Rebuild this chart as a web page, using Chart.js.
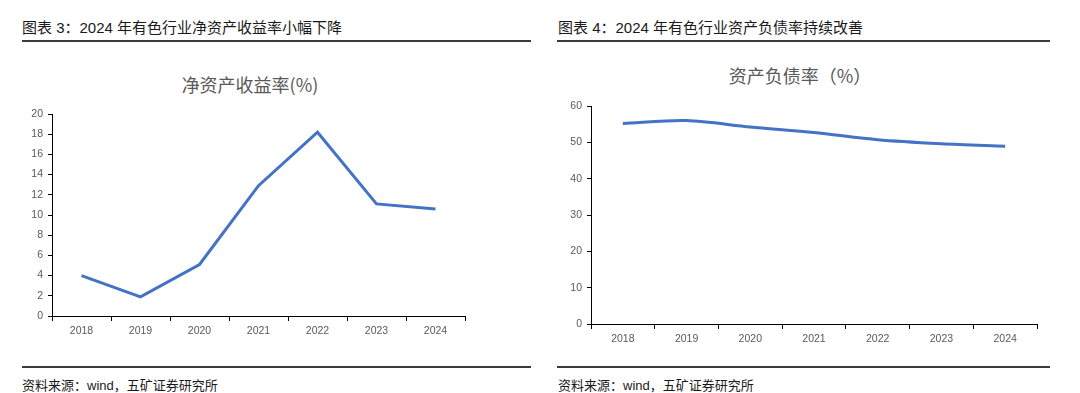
<!DOCTYPE html>
<html lang="zh">
<head>
    <meta charset="UTF-8">
    <title>有色行业 ROE 与资产负债率</title>
    <script src="https://cdn.jsdelivr.net/npm/chart.js"></script>
    <style>
        body {
            margin: 0;
            width: 1080px;
            height: 393px;
            background: #fff;
            position: relative;
            font-family: "Liberation Sans", "Noto Sans CJK SC", sans-serif;
            overflow: hidden;
        }
        .head {
            position: absolute;
            font-size: 15px;
            color: #1a1a1a;
            top: 16px;
        }
        .rule {
            position: absolute;
            height: 2px;
            background: #3a3a3a;
        }
        .ctitle {
            position: absolute;
            font-family: "Noto Sans CJK SC", sans-serif;
            font-size: 18px;
            color: #595959;
            text-align: center;
        }
        .src {
            position: absolute;
            font-size: 13px;
            color: #1a1a1a;
            top: 375px;
        }
        .box { position: absolute; }
    </style>
</head>
<body>
    <div class="head" style="left:22px">图表 3：2024 年有色行业净资产收益率小幅下降</div>
    <div class="rule" style="left:22px; width:509px; top:40px"></div>
    <div class="head" style="left:558px">图表 4：2024 年有色行业资产负债率持续改善</div>
    <div class="rule" style="left:557px; width:493px; top:40px"></div>

    <div class="ctitle" style="left:150px; width:200px; top:71px">净资产收益率(%)</div>
    <div class="ctitle" style="left:700px; width:200px; top:62px">资产负债率（%）</div>

    <div class="box" style="left:10px; top:100px; width:470px; height:245px"><canvas id="roeChart"></canvas></div>
    <div class="box" style="left:545px; top:90px; width:507px; height:263px"><canvas id="debtChart"></canvas></div>

    <div class="rule" style="left:22px; width:509px; top:366px"></div>
    <div class="rule" style="left:557px; width:493px; top:366px"></div>
    <div class="src" style="left:22px">资料来源：wind，五矿证券研究所</div>
    <div class="src" style="left:558px">资料来源：wind，五矿证券研究所</div>

    <script>
        const years = ['2018', '2019', '2020', '2021', '2022', '2023', '2024'];
        const roeValues = [4.0, 1.9, 5.1, 12.9, 18.2, 11.1, 10.6];
        const debtValues = [55.2, 56.0, 54.2, 52.7, 50.7, 49.6, 48.9];

        function makeChart(id, values, yMax, yStep, yWidth, pad, tension) {
            const ctx = document.getElementById(id).getContext('2d');
            return new Chart(ctx, {
                type: 'line',
                data: {
                    labels: years,
                    datasets: [{
                        data: values,
                        borderColor: '#4472C4',
                        borderWidth: 3,
                        pointRadius: 0,
                        tension: tension,
                        fill: false
                    }]
                },
                options: {
                    responsive: true,
                    maintainAspectRatio: false,
                    animation: false,
                    layout: { padding: pad },
                    plugins: {
                        legend: { display: false },
                        tooltip: { enabled: false }
                    },
                    scales: {
                        x: {
                            offset: true,
                            grid: {
                                offset: true,
                                drawOnChartArea: false,
                                tickLength: 5,
                                tickColor: '#000'
                            },
                            border: { color: '#000', width: 1 },
                            ticks: {
                                color: '#595959',
                                font: { family: 'Liberation Sans', size: 10.5 },
                                padding: 4,
                                maxRotation: 0
                            },
                            afterFit: s => { s.height = 29; }
                        },
                        y: {
                            min: 0,
                            max: yMax,
                            grid: {
                                drawOnChartArea: false,
                                tickLength: 4,
                                tickColor: '#000'
                            },
                            border: { color: '#000', width: 1 },
                            ticks: {
                                stepSize: yStep,
                                color: '#595959',
                                font: { family: 'Liberation Sans', size: 10.5 },
                                padding: 5
                            },
                            afterFit: s => { s.width = yWidth; }
                        }
                    }
                }
            });
        }

        makeChart('roeChart', roeValues, 20, 2, 42, { top: 14, right: 15, bottom: 0, left: 0 }, 0);
        makeChart('debtChart', debtValues, 60, 10, 46, { top: 16, right: 15, bottom: 0, left: 0 }, 0.3);
    </script>
</body>
</html>
